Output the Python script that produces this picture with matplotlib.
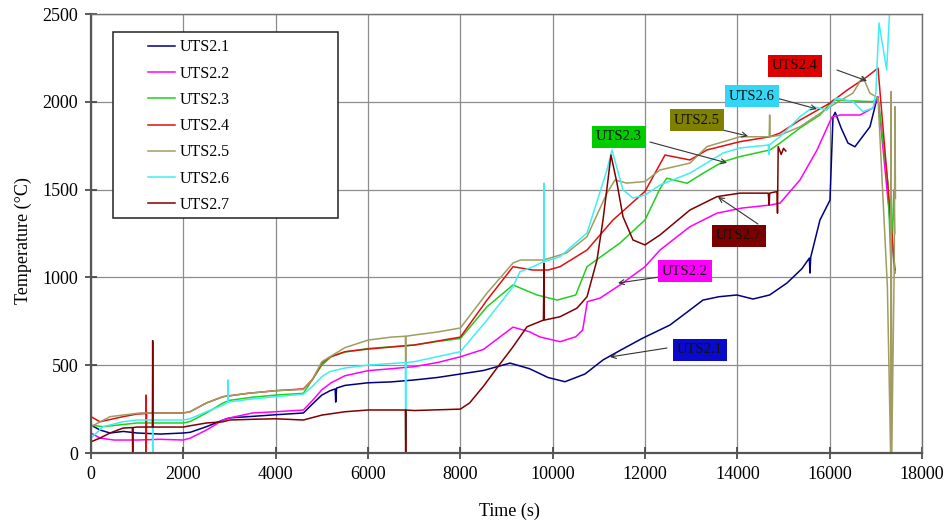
import matplotlib
matplotlib.use('Agg')
from matplotlib import pyplot as plt
from matplotlib.patches import Rectangle

plt.rcParams['font.family'] = ['Liberation Serif', 'DejaVu Serif']

# --- data (time in s, temperature in degC) ---
t1 = [0, 195, 411, 700, 1000, 1500, 2000, 2150, 2500, 2860, 3000, 3400, 4000, 4600,
      4800, 5000, 5180, 5290, 5300, 5320, 5500, 6000, 6500, 7000, 7500, 8000, 8500,
      9076, 9500, 9900, 10267, 10700, 11090, 11500, 11957, 12541, 12900, 13256, 13600,
      13992, 14339, 14700, 15075, 15400, 15560, 15573, 15590, 15790, 16007, 16072,
      16120, 16250, 16397, 16547, 16873, 17017]
T1 = [159, 131, 114, 123, 114, 108, 114, 118, 150, 188, 200, 207, 218, 228,
      280, 330, 355, 365, 290, 370, 385, 400, 405, 416, 430, 450, 470,
      512, 480, 430, 406, 450, 530, 590, 655, 729, 800, 871, 890,
      900, 877, 900, 968, 1050, 1110, 1025, 1116, 1327, 1440, 1914,
      1940, 1850, 1765, 1744, 1858, 2010]

t2 = [0, 195, 500, 1000, 1500, 2000, 2150, 2500, 2860, 3000, 3500, 4000, 4600, 4800,
      5000, 5200, 5500, 6000, 6500, 7000, 7500, 8000, 8500, 9141, 9500, 9725, 10158,
      10500, 10650, 10750, 11025, 11458, 12000, 12325, 12974, 13559, 14100, 14707,
      14924, 15357, 15725, 16050, 16230, 16657, 16939, 17047, 17415]
T2 = [114, 85, 74, 74, 78, 74, 85, 131, 188, 200, 228, 235, 245, 300,
      360, 400, 440, 469, 480, 492, 515, 548, 590, 717, 690, 661, 634,
      662, 700, 862, 882, 957, 1061, 1156, 1289, 1366, 1395, 1412,
      1423, 1555, 1725, 1914, 1925, 1925, 1965, 2030, 1025]

t3 = [0, 260, 1000, 2000, 2150, 2500, 2860, 3000, 3500, 4000, 4600, 4800, 5000, 5200,
      5500, 6000, 6500, 7000, 7500, 8000, 8578, 9141, 9660, 10100, 10500, 10744, 11458,
      12000, 12325, 12470, 12910, 13300, 13689, 14057, 14707, 14924, 15357, 15790,
      16072, 16500, 16939, 17047, 17263, 17330, 17390, 17410]
T3 = [159, 150, 171, 171, 180, 228, 285, 300, 318, 330, 340, 420, 500, 548,
      575, 595, 605, 615, 635, 652, 833, 957, 900, 871, 900, 1061, 1196,
      1327, 1505, 1565, 1536, 1600, 1659, 1688, 1726, 1765, 1851, 1925,
      2010, 2005, 2001, 2022, 1537, 1050, 1498, 1250]

t4 = [0, 195, 693, 1000, 1185, 1191, 1195, 1205, 1500, 2000, 2144, 2500, 2860, 3400,
      4000, 4600, 4800, 5000, 5177, 5500, 6000, 7000, 8000, 8578, 9141, 9574, 9900,
      10158, 10744, 11306, 12000, 12433, 12974, 13343, 14057, 14707, 14924, 15357,
      16007, 16380, 16810, 17047, 17415]
T4 = [207, 178, 207, 222, 225, 330, 0, 228, 228, 228, 235, 285, 321, 340,
      355, 365, 420, 512, 547, 577, 592, 615, 660, 871, 1061, 1042, 1042,
      1061, 1156, 1327, 1490, 1697, 1669, 1726, 1773, 1801, 1822, 1896,
      1993, 2067, 2143, 2192, 1042]

t5 = [0, 411, 1061, 2000, 2144, 2500, 2860, 3400, 4000, 4600, 4800, 5000, 5500, 6000,
      6500, 6810, 6816, 6822, 7000, 7500, 8000, 8578, 9141, 9300, 9800, 10300, 10744,
      11176, 11350, 11600, 12000, 12325, 12974, 13343, 14057, 14690, 14700, 14710,
      14924, 15357, 16007, 16505, 16720, 16870, 17047, 17250, 17320, 17330, 17345,
      17400, 17415, 17425]
T5 = [150, 207, 228, 228, 235, 285, 321, 340, 355, 362, 420, 520, 600, 643,
      660, 665, 500, 665, 672, 689, 712, 911, 1082, 1099, 1099, 1139, 1232,
      1480, 1555, 1537, 1546, 1612, 1651, 1745, 1801, 1801, 1925, 1801,
      1810, 1858, 1972, 2050, 2143, 2050, 2022, 950, 0, 2058, 0,
      1100, 1972, 1450]

t6 = [0, 260, 693, 1000, 1330, 1336, 1342, 2000, 2144, 2500, 2860, 2960, 2967, 2974,
      3400, 4000, 4600, 4800, 5000, 5177, 5500, 6000, 6810, 6816, 6822, 7000, 8000,
      8578, 9141, 9290, 9574, 9805, 9812, 9819, 10158, 10744, 11176, 11285, 11523,
      11740, 12000, 12325, 12974, 13689, 14057, 14670, 14680, 14690, 14924, 15357,
      15647, 15940, 16150, 16505, 16720, 16939, 17000, 17068, 17235, 17306]
T6 = [85, 150, 178, 188, 188, 0, 188, 188, 195, 235, 273, 290, 416, 290,
      305, 321, 335, 380, 435, 464, 484, 501, 515, 70, 515, 520, 577,
      757, 947, 1032, 1061, 1090, 1537, 1090, 1118, 1253, 1612, 1726, 1498,
      1452, 1469, 1526, 1594, 1708, 1737, 1754, 1700, 1754, 1801, 1915,
      1972, 1953, 2022, 2001, 1944, 1965, 2050, 2449, 2181, 2560]

t7 = [0, 195, 411, 693, 895, 903, 910, 1000, 1330, 1336, 1342, 1500, 2000, 2144,
      2500, 2860, 3000, 3500, 4000, 4600, 5000, 5500, 6000, 6810, 6816, 6822, 7000,
      8000, 8200, 8500, 8815, 9141, 9444, 9800, 9812, 9819, 10158, 10527, 10744,
      10960, 11090, 11198, 11263, 11393, 11523, 11740, 12000, 12325, 12974, 13559,
      14057, 14670, 14690, 14700, 14860, 14870, 14885, 14950, 15000, 15050]
T7 = [64, 85, 114, 142, 145, 0, 145, 148, 148, 640, 148, 148, 148, 155,
      171, 178, 188, 192, 195, 188, 216, 235, 245, 245, 0, 245, 242,
      250, 285, 380, 492, 605, 719, 757, 1080, 757, 776, 825, 890,
      1099, 1327, 1555, 1697, 1537, 1346, 1213, 1185, 1242, 1384, 1460,
      1480, 1480, 1412, 1480, 1489, 1366, 1745, 1700, 1735, 1720]

names = ['UTS2.1', 'UTS2.2', 'UTS2.3', 'UTS2.4', 'UTS2.5', 'UTS2.6', 'UTS2.7']
colors = ['#000080', '#ff00ff', '#1fd01f', '#e01010', '#a09c62', '#40eef2', '#800000']
series = [(t1, T1), (t2, T2), (t3, T3), (t4, T4), (t5, T5), (t6, T6), (t7, T7)]

# callout labels: text centre, arrow tail, arrow tip, box colour
label_pos = {
    'UTS2.1': ((13191, 587), (12476, 598), (11241, 547), '#0a0acc'),
    'UTS2.2': ((12866, 1036), (12303, 1002), (11415, 968), '#ff00ff'),
    'UTS2.7': ((14036, 1236), (14447, 1304), (13581, 1458), '#7a0000'),
    'UTS2.3': ((11436, 1800), (12108, 1771), (13776, 1652), '#00cc00'),
    'UTS2.5': ((13126, 1896), (13126, 1874), (14231, 1805), '#7f7f00'),
    'UTS2.6': ((14318, 2033), (14772, 2027), (15725, 1959), '#33d6f5'),
    'UTS2.4': ((15249, 2204), (16158, 2181), (16808, 2119), '#dd0000'),
}

fig = plt.figure(figsize=(9.47, 5.23), dpi=100)
ax = fig.add_axes([0.0961, 0.1338, 0.8775, 0.8394])

for (t, T), name, c in zip(series, names, colors):
    ax.plot(t, T, color=c, lw=1.1, label=name)

ax.set_xlim(0, 18000)
ax.set_ylim(0, 2500)
ax.set_xticks(range(0, 18001, 2000))
ax.set_yticks(range(0, 2501, 500))
ax.grid(True, color='#8c8c8c', lw=0.9)
ax.set_axisbelow(True)
ax.tick_params(direction='inout', length=8.5, width=1.2, labelsize=13, pad=5, color='#404040')
for side in ['left', 'bottom']:
    ax.spines[side].set_color('#555555')
    ax.spines[side].set_linewidth(1.6)
for side in ['top', 'right']:
    ax.spines[side].set_color('#707070')
    ax.spines[side].set_linewidth(1.0)

ax.set_xlabel('Time (s)', fontsize=13)
ax.set_ylabel('Temperature (°C)', fontsize=13)
ax.xaxis.set_label_coords(0.504, -0.112)
ax.yaxis.set_label_coords(-0.071, 0.485)

for name in names:
    (tx, ty), (ax0, ay0), (ax1, ay1), bc = label_pos[name]
    ax.annotate('', xy=(ax1, ay1), xytext=(ax0, ay0),
                arrowprops=dict(arrowstyle='->', color='#333333', lw=0.8,
                                shrinkA=0, shrinkB=0, mutation_scale=9))
    ax.text(tx, ty, name, ha='center', va='center', fontsize=10.5, color='#111111',
            bbox=dict(boxstyle='square,pad=0.3', fc=bc, ec='none'))

# legend with a wide frame like the original
leg = ax.legend(loc='upper left', bbox_to_anchor=(0.0686, 0.942), frameon=False,
                fontsize=11.5, handlelength=1.7, handletextpad=0.3,
                labelspacing=0.64, borderpad=0, borderaxespad=0)
ax.add_patch(Rectangle((0.0265, 0.5353), 0.2707, 0.4237, transform=ax.transAxes,
                       fc='white', ec='#222222', lw=1.1, zorder=4))
leg.set_zorder(5)

plt.savefig('out.png')
